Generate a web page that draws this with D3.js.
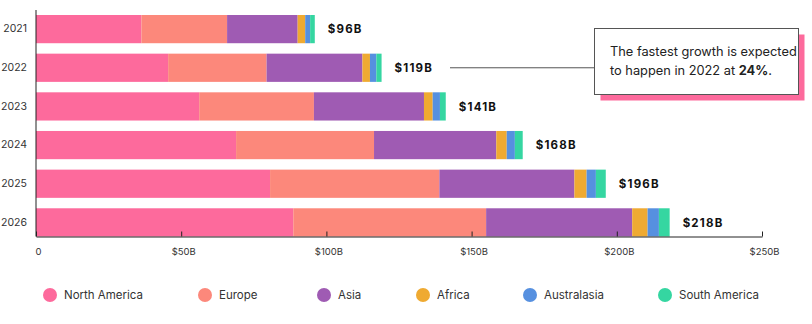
<!DOCTYPE html>
<html>
<head>
<meta charset="utf-8">
<script src="https://cdn.jsdelivr.net/npm/d3@7"></script>
<style>
  body { margin: 0; background: #fff; }
  svg { display: block; font-family: Inter, "Noto Sans", sans-serif; }
</style>
</head>
<body>
<svg id="chart" width="812" height="324"></svg>
<script>
// market size by region, $B
const years = ["2021", "2022", "2023", "2024", "2025", "2026"]
const regions = ["North America", "Europe", "Asia", "Africa", "Australasia", "South America"]
const northAmerica = [36.3, 45.5, 56.2, 68.9, 80.6, 88.6]
const europe = [29.5, 33.9, 39.5, 47.5, 58.3, 66.4]
const asia = [24.3, 33.0, 37.9, 42.1, 46.5, 50.3]
const africa = [2.6, 2.6, 3.0, 3.6, 4.2, 5.3]
const australasia = [1.7, 2.2, 2.5, 2.8, 3.2, 3.9]
const southAmerica = [1.6, 1.8, 2.0, 2.7, 3.4, 3.7]
const totals = ["$96B", "$119B", "$141B", "$168B", "$196B", "$218B"]
const xTicks = [0, 50, 100, 150, 200, 250]
const colors = ["#fd6a9c", "#fc887b", "#9f5bb3", "#efaa32", "#5690e0", "#35d6a1"]

const seriesValues = [northAmerica, europe, asia, africa, australasia, southAmerica]
const rows = years.map((y, i) => {
  const r = { year: y, label: totals[i] }
  regions.forEach((reg, j) => { r[reg] = seriesValues[j][i] })
  return r
})

const svg = d3.select("#chart")

const x = d3.scaleLinear().domain([0, 250]).range([36, 762])
const y = d3.scaleBand().domain(years).range([15, 236.5]).paddingInner(0.27).paddingOuter(0)
const color = d3.scaleOrdinal().domain(regions).range(colors)

const stacked = d3.stack().keys(regions)(rows)

// bars
svg.append("g")
  .selectAll("g")
  .data(stacked)
  .join("g")
    .attr("fill", d => color(d.key))
  .selectAll("rect")
  .data(d => d)
  .join("rect")
    .attr("x", d => x(d[0]))
    .attr("y", d => y(d.data.year))
    .attr("width", d => x(d[1]) - x(d[0]))
    .attr("height", y.bandwidth())

// total labels
const last = stacked[stacked.length - 1]
svg.append("g")
  .selectAll("text")
  .data(last)
  .join("text")
    .attr("x", d => x(d[1]) + 13)
    .attr("y", d => y(d.data.year) + y.bandwidth() / 2)
    .attr("dy", "0.36em")
    .attr("font-size", 11.5)
    .attr("font-weight", 700)
    .attr("letter-spacing", "1.2px")
    .attr("fill", "#111")
    .text(d => d.data.label)

// x axis
const xAxis = svg.append("g")
  .attr("transform", "translate(0,236.5)")
  .call(d3.axisBottom(x).tickValues(xTicks).tickSize(-5).tickSizeOuter(0)
    .tickFormat(d => d === 0 ? "0" : "$" + d + "B"))
xAxis.select(".domain").attr("stroke", "#222")
xAxis.selectAll(".tick line").attr("stroke", "#222")
xAxis.selectAll(".tick text")
  .attr("y", 12)
  .attr("dx", 2)
  .attr("font-size", 9.5)
  .attr("font-family", "Inter, sans-serif")
  .attr("fill", "#333")

// y axis
const yAxis = svg.append("g")
  .attr("transform", "translate(36,0)")
  .call(d3.axisLeft(y).tickSize(0).tickPadding(9))
yAxis.select(".domain").remove()
svg.append("line")
  .attr("x1", 36).attr("x2", 36)
  .attr("y1", 10).attr("y2", 236.5)
  .attr("stroke", "#222")
yAxis.selectAll(".tick text")
  .attr("font-size", 10.5)
  .attr("font-family", "Inter, sans-serif")
  .attr("fill", "#333")

// annotation
const ay = y("2022") + y.bandwidth() / 2
svg.append("line")
  .attr("x1", 450).attr("x2", 594)
  .attr("y1", ay).attr("y2", ay)
  .attr("stroke", "#555")
svg.append("rect")
  .attr("x", 600.5).attr("y", 34.5).attr("width", 204).attr("height", 66)
  .attr("fill", "#fd6a9c")
svg.append("rect")
  .attr("x", 594.5).attr("y", 28.5).attr("width", 204).attr("height", 66)
  .attr("fill", "#fff").attr("stroke", "#555")
const note = svg.append("text")
  .attr("font-size", 12.8)
  .attr("fill", "#222")
note.append("tspan").attr("x", 610).attr("y", 56).text("The fastest growth is expected")
const l2 = note.append("tspan").attr("x", 610).attr("y", 75)
l2.append("tspan").text("to happen in 2022 at ")
l2.append("tspan").attr("font-weight", 700).text("24%")
l2.append("tspan").text(".")

// legend
const legendX = [50, 205, 324, 423, 530, 665]
const legend = svg.append("g")
  .selectAll("g")
  .data(regions)
  .join("g")
    .attr("transform", (d, i) => `translate(${legendX[i]},295)`)
legend.append("circle")
  .attr("r", 7)
  .attr("fill", d => color(d))
legend.append("text")
  .attr("x", 14)
  .attr("dy", "0.35em")
  .attr("font-size", 11.5)
  .attr("fill", "#333")
  .text(d => d)
</script>
</body>
</html>
